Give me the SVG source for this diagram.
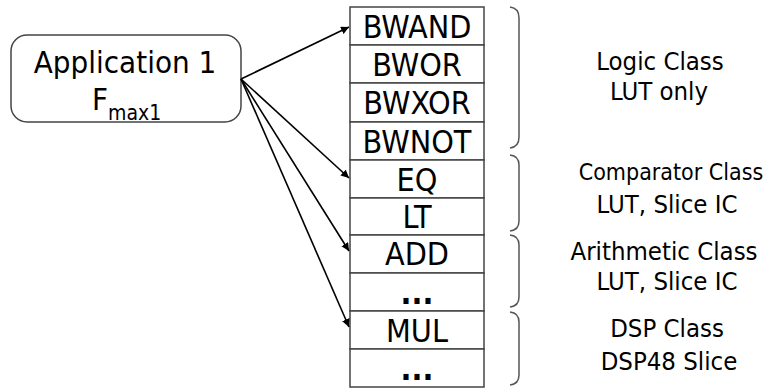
<svg xmlns="http://www.w3.org/2000/svg" width="771" height="388" viewBox="0 0 771 388">
  <style>
    text { font-family: "DejaVu Sans Condensed", "DejaVu Sans", sans-serif; fill: #000; }
    .cell rect { fill: #fff; stroke: #444; stroke-width: 1.5; }
    .cell text { font-size: 32px; text-anchor: middle; }
    .lbl { font-size: 25.5px; text-anchor: middle; }
    .brace { fill: none; stroke: #555; stroke-width: 1.5; }
    .conn line { stroke: #000; stroke-width: 1.6; marker-end: url(#arrow); }
  </style>
  <defs>
    <marker id="arrow" viewBox="0 0 10 10" refX="10" refY="5" markerWidth="8" markerHeight="8" markerUnits="userSpaceOnUse" orient="auto">
      <path d="M0,0 L10,5 L0,10 z" fill="#000"/>
    </marker>
  </defs>

  <!-- application node -->
  <g id="app">
    <rect x="11" y="35" width="230" height="87" rx="16" ry="16" fill="#fff" stroke="#444" stroke-width="1.5"/>
    <text x="125" y="73" style="font-size:31px" text-anchor="middle">Application 1</text>
    <text x="92" y="110" style="font-size:31px">F<tspan dy="10" style="font-size:21px">max1</tspan></text>
  </g>

  <!-- operator table -->
  <g id="op-bwand" class="cell"><rect x="350" y="7" width="134" height="38"/><text x="417" y="38">BWAND</text></g>
  <g id="op-bwor" class="cell"><rect x="350" y="45" width="134" height="38"/><text x="417" y="76">BWOR</text></g>
  <g id="op-bwxor" class="cell"><rect x="350" y="83" width="134" height="39"/><text x="417" y="114">BWXOR</text></g>
  <g id="op-bwnot" class="cell"><rect x="350" y="122" width="134" height="38"/><text x="417" y="153">BWNOT</text></g>
  <g id="op-eq" class="cell"><rect x="350" y="160" width="134" height="38"/><text x="417" y="191">EQ</text></g>
  <g id="op-lt" class="cell"><rect x="350" y="198" width="134" height="37"/><text x="417" y="228">LT</text></g>
  <g id="op-add" class="cell"><rect x="350" y="235" width="134" height="38"/><text x="417" y="265">ADD</text></g>
  <g id="op-arith-more" class="cell"><rect x="350" y="273" width="134" height="38"/><text x="417" y="304" font-weight="bold">...</text></g>
  <g id="op-mul" class="cell"><rect x="350" y="311" width="134" height="38"/><text x="417" y="342">MUL</text></g>
  <g id="op-dsp-more" class="cell"><rect x="350" y="349" width="134" height="38"/><text x="417" y="380" font-weight="bold">...</text></g>

  <!-- class brackets and labels -->
  <g id="class-logic">
    <path class="brace" d="M510,7 Q519,8 519,18 L519,137 Q519,147 510,148"/>
    <text class="lbl" x="660" y="70">Logic Class</text>
    <text class="lbl" x="659" y="100">LUT only</text>
  </g>
  <g id="class-comparator">
    <path class="brace" d="M510,155 Q519,156 519,165 L519,221 Q519,230 510,231"/>
    <text class="lbl" x="671" y="180" style="font-size:23px">Comparator Class</text>
    <text class="lbl" x="667" y="213">LUT, Slice IC</text>
  </g>
  <g id="class-arithmetic">
    <path class="brace" d="M510,235 Q519,236 519,245 L519,297 Q519,306 510,307"/>
    <text class="lbl" x="664" y="260">Arithmetic Class</text>
    <text class="lbl" x="667" y="290">LUT, Slice IC</text>
  </g>
  <g id="class-dsp">
    <path class="brace" d="M510,312 Q519,313 519,322 L519,375 Q519,384 510,385"/>
    <text class="lbl" x="667" y="337">DSP Class</text>
    <text class="lbl" x="669" y="370">DSP48 Slice</text>
  </g>

  <!-- connectors -->
  <g id="connectors" class="conn">
    <line x1="241" y1="79" x2="349" y2="27"/>
    <line x1="241" y1="79" x2="349" y2="178"/>
    <line x1="241" y1="79" x2="349" y2="251"/>
    <line x1="241" y1="79" x2="349" y2="327"/>
  </g>
</svg>
